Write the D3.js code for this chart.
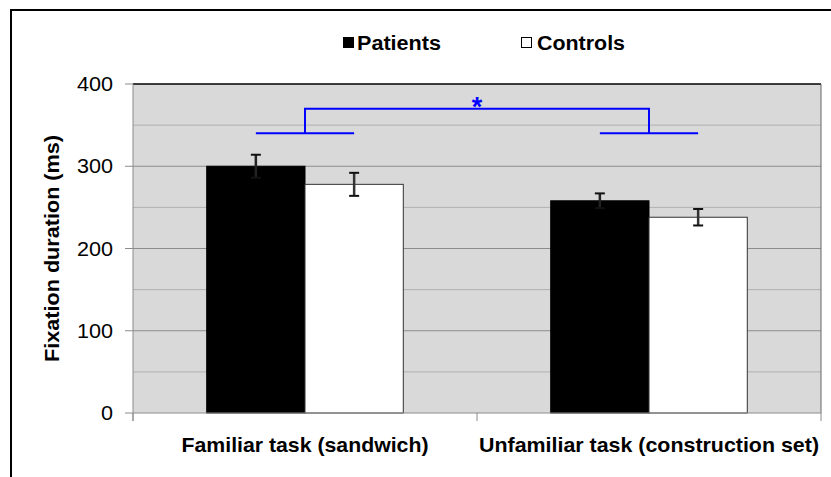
<!DOCTYPE html>
<html>
<head>
<meta charset="utf-8">
<script src="https://cdn.jsdelivr.net/npm/d3@7"></script>
<style>
  body { margin: 0; background: #fff; }
  text { font-family: "Liberation Sans", Arial, sans-serif; }
</style>
</head>
<body>
<div id="chart"></div>
<script>
var categories = ["Familiar task (sandwich)", "Unfamiliar task (construction set)"];
var groups = ["Patients", "Controls"];
var patientsMean = [300, 258];
var patientsErr = [14, 9];
var controlsMean = [278, 238];
var controlsErr = [14, 10];
var yTicks = [0, 100, 200, 300, 400];
var minorTicks = [50, 150, 250, 350];
var sigLow = 340, sigHigh = 370;

// build rows for the bars
var rows = [];
categories.forEach(function(c, i) {
    rows.push({cat: c, group: "Patients", mean: patientsMean[i], err: patientsErr[i]});
    rows.push({cat: c, group: "Controls", mean: controlsMean[i], err: controlsErr[i]});
});

// dimensions of the plot area
var margin = {top: 84, right: 10, bottom: 64, left: 133},
    width = 821 - margin.left,
    height = 413 - margin.top;

var svg = d3.select("#chart")
  .append("svg")
    .attr("width", 831)
    .attr("height", 477);

// outer frame
svg.append("path")
    .attr("d", "M11,477 L11,10 L831,10")
    .attr("fill", "none")
    .attr("stroke", "#000")
    .attr("stroke-width", 2);

var g = svg.append("g")
    .attr("transform", "translate(" + margin.left + "," + margin.top + ")");

var x0 = d3.scaleBand()
    .domain(categories)
    .range([0, width]);

var x1 = d3.scaleBand()
    .domain(groups)
    .range([0, x0.bandwidth()])
    .paddingInner(0)
    .paddingOuter(0.75);

var y = d3.scaleLinear()
    .domain([0, 400])
    .range([height, 0]);

// plot background
g.append("rect")
    .attr("x", 0).attr("y", 0)
    .attr("width", width).attr("height", height)
    .attr("fill", "#d9d9d9");

// gridlines
g.selectAll(".minor")
    .data(minorTicks)
  .enter().append("line")
    .attr("x1", 0).attr("x2", width)
    .attr("y1", function(d) { return y(d); })
    .attr("y2", function(d) { return y(d); })
    .attr("stroke", "#b0b0b0")
    .attr("stroke-width", 1);

g.selectAll(".major")
    .data(yTicks.slice(1, 4))
  .enter().append("line")
    .attr("x1", 0).attr("x2", width)
    .attr("y1", function(d) { return y(d); })
    .attr("y2", function(d) { return y(d); })
    .attr("stroke", "#8c8c8c")
    .attr("stroke-width", 1);

// plot border
g.append("line").attr("x1", 0).attr("x2", width).attr("y1", 0).attr("y2", 0)
    .attr("stroke", "#000").attr("stroke-width", 1.5);
g.append("line").attr("x1", width).attr("x2", width).attr("y1", 0).attr("y2", height)
    .attr("stroke", "#666").attr("stroke-width", 1);

// bars
g.selectAll(".bar")
    .data(rows)
  .enter().append("rect")
    .attr("x", function(d) { return x0(d.cat) + x1(d.group); })
    .attr("y", function(d) { return y(d.mean); })
    .attr("width", x1.bandwidth())
    .attr("height", function(d) { return height - y(d.mean); })
    .attr("fill", function(d) { return d.group == "Patients" ? "#000" : "#fff"; })
    .attr("stroke", function(d) { return d.group == "Patients" ? "#000" : "#333"; })
    .attr("stroke-width", 1);

// error bars
var eb = g.selectAll(".err")
    .data(rows)
  .enter().append("g")
    .attr("transform", function(d) {
        return "translate(" + (x0(d.cat) + x1(d.group) + x1.bandwidth() / 2) + ",0)";
    });
eb.append("line")
    .attr("x1", 0).attr("x2", 0)
    .attr("y1", function(d) { return y(d.mean + d.err); })
    .attr("y2", function(d) { return y(d.mean - d.err); })
    .attr("stroke", function(d) { return d.group == "Patients" ? "#222" : "#333"; })
    .attr("stroke-width", 2.5);
eb.append("line")
    .attr("x1", -5).attr("x2", 5)
    .attr("y1", function(d) { return y(d.mean + d.err); })
    .attr("y2", function(d) { return y(d.mean + d.err); })
    .attr("stroke", "#111").attr("stroke-width", 2);
eb.append("line")
    .attr("x1", -5).attr("x2", 5)
    .attr("y1", function(d) { return y(d.mean - d.err); })
    .attr("y2", function(d) { return y(d.mean - d.err); })
    .attr("stroke", "#111").attr("stroke-width", 2);

// left axis
g.append("line").attr("x1", 0).attr("x2", 0).attr("y1", 0).attr("y2", height + 8)
    .attr("stroke", "#8c8c8c").attr("stroke-width", 1);
g.append("line").attr("x1", 0).attr("x2", width).attr("y1", height).attr("y2", height)
    .attr("stroke", "#8c8c8c").attr("stroke-width", 1);

g.selectAll(".ytick")
    .data(yTicks)
  .enter().append("line")
    .attr("x1", -8).attr("x2", 0)
    .attr("y1", function(d) { return y(d); })
    .attr("y2", function(d) { return y(d); })
    .attr("stroke", "#8c8c8c");

g.selectAll(".ylab")
    .data(yTicks)
  .enter().append("text")
    .attr("x", -20)
    .attr("y", function(d) { return y(d) + 7; })
    .attr("text-anchor", "end")
    .attr("font-size", "20px")
    .attr("fill", "#000")
    .attr("textLength", function(d) { return String(d).length * 12; })
    .attr("lengthAdjust", "spacingAndGlyphs")
    .text(function(d) { return d; });

// category ticks under the axis
g.selectAll(".xtick")
    .data(d3.range(categories.length + 1))
  .enter().append("line")
    .attr("x1", function(d) { return d * x0.step(); })
    .attr("x2", function(d) { return d * x0.step(); })
    .attr("y1", height).attr("y2", height + 8)
    .attr("stroke", "#8c8c8c");

g.selectAll(".xlab")
    .data(categories)
  .enter().append("text")
    .attr("x", function(d) { return x0(d) + x0.bandwidth() / 2; })
    .attr("y", 452 - margin.top)
    .attr("text-anchor", "middle")
    .attr("font-size", "21px")
    .attr("font-weight", "bold")
    .attr("textLength", function(d, i) { return i == 0 ? 247 : 340; })
    .attr("lengthAdjust", "spacingAndGlyphs")
    .text(function(d) { return d; });

// y axis title
svg.append("text")
    .attr("transform", "translate(59," + (margin.top + height / 2) + ") rotate(-90)")
    .attr("text-anchor", "middle")
    .attr("font-size", "20px")
    .attr("font-weight", "bold")
    .attr("textLength", 227)
    .attr("lengthAdjust", "spacingAndGlyphs")
    .text("Fixation duration (ms)");

// significance bracket
var c0 = x0(categories[0]) + x0.bandwidth() / 2,
    c1 = x0(categories[1]) + x0.bandwidth() / 2,
    bw = x1.bandwidth();
g.append("path")
    .attr("d",
        "M" + (c0 - bw / 2) + "," + y(sigLow) + " L" + (c0 + bw / 2) + "," + y(sigLow) +
        " M" + c0 + "," + y(sigLow) + " L" + c0 + "," + y(sigHigh) + " L" + c1 + "," + y(sigHigh) +
        " L" + c1 + "," + y(sigLow) +
        " M" + (c1 - bw / 2) + "," + y(sigLow) + " L" + (c1 + bw / 2) + "," + y(sigLow))
    .attr("fill", "none")
    .attr("stroke", "#0000ff")
    .attr("stroke-width", 2);

g.append("text")
    .attr("x", (c0 + c1) / 2)
    .attr("y", y(sigHigh) + 7)
    .attr("text-anchor", "middle")
    .attr("font-size", "27px")
    .attr("font-weight", "bold")
    .attr("fill", "#0000ff")
    .text("*");

// legend
var legend = svg.append("g");
legend.append("rect")
    .attr("x", 343).attr("y", 37).attr("width", 11).attr("height", 11)
    .attr("fill", "#000");
legend.append("text")
    .attr("x", 357).attr("y", 50)
    .attr("font-size", "20px").attr("font-weight", "bold")
    .attr("textLength", 84).attr("lengthAdjust", "spacingAndGlyphs")
    .text("Patients");
legend.append("rect")
    .attr("x", 521.5).attr("y", 37.5).attr("width", 10).attr("height", 10)
    .attr("fill", "#fff").attr("stroke", "#000").attr("stroke-width", 1);
legend.append("text")
    .attr("x", 537).attr("y", 50)
    .attr("font-size", "20px").attr("font-weight", "bold")
    .attr("textLength", 88).attr("lengthAdjust", "spacingAndGlyphs")
    .text("Controls");
</script>
</body>
</html>
